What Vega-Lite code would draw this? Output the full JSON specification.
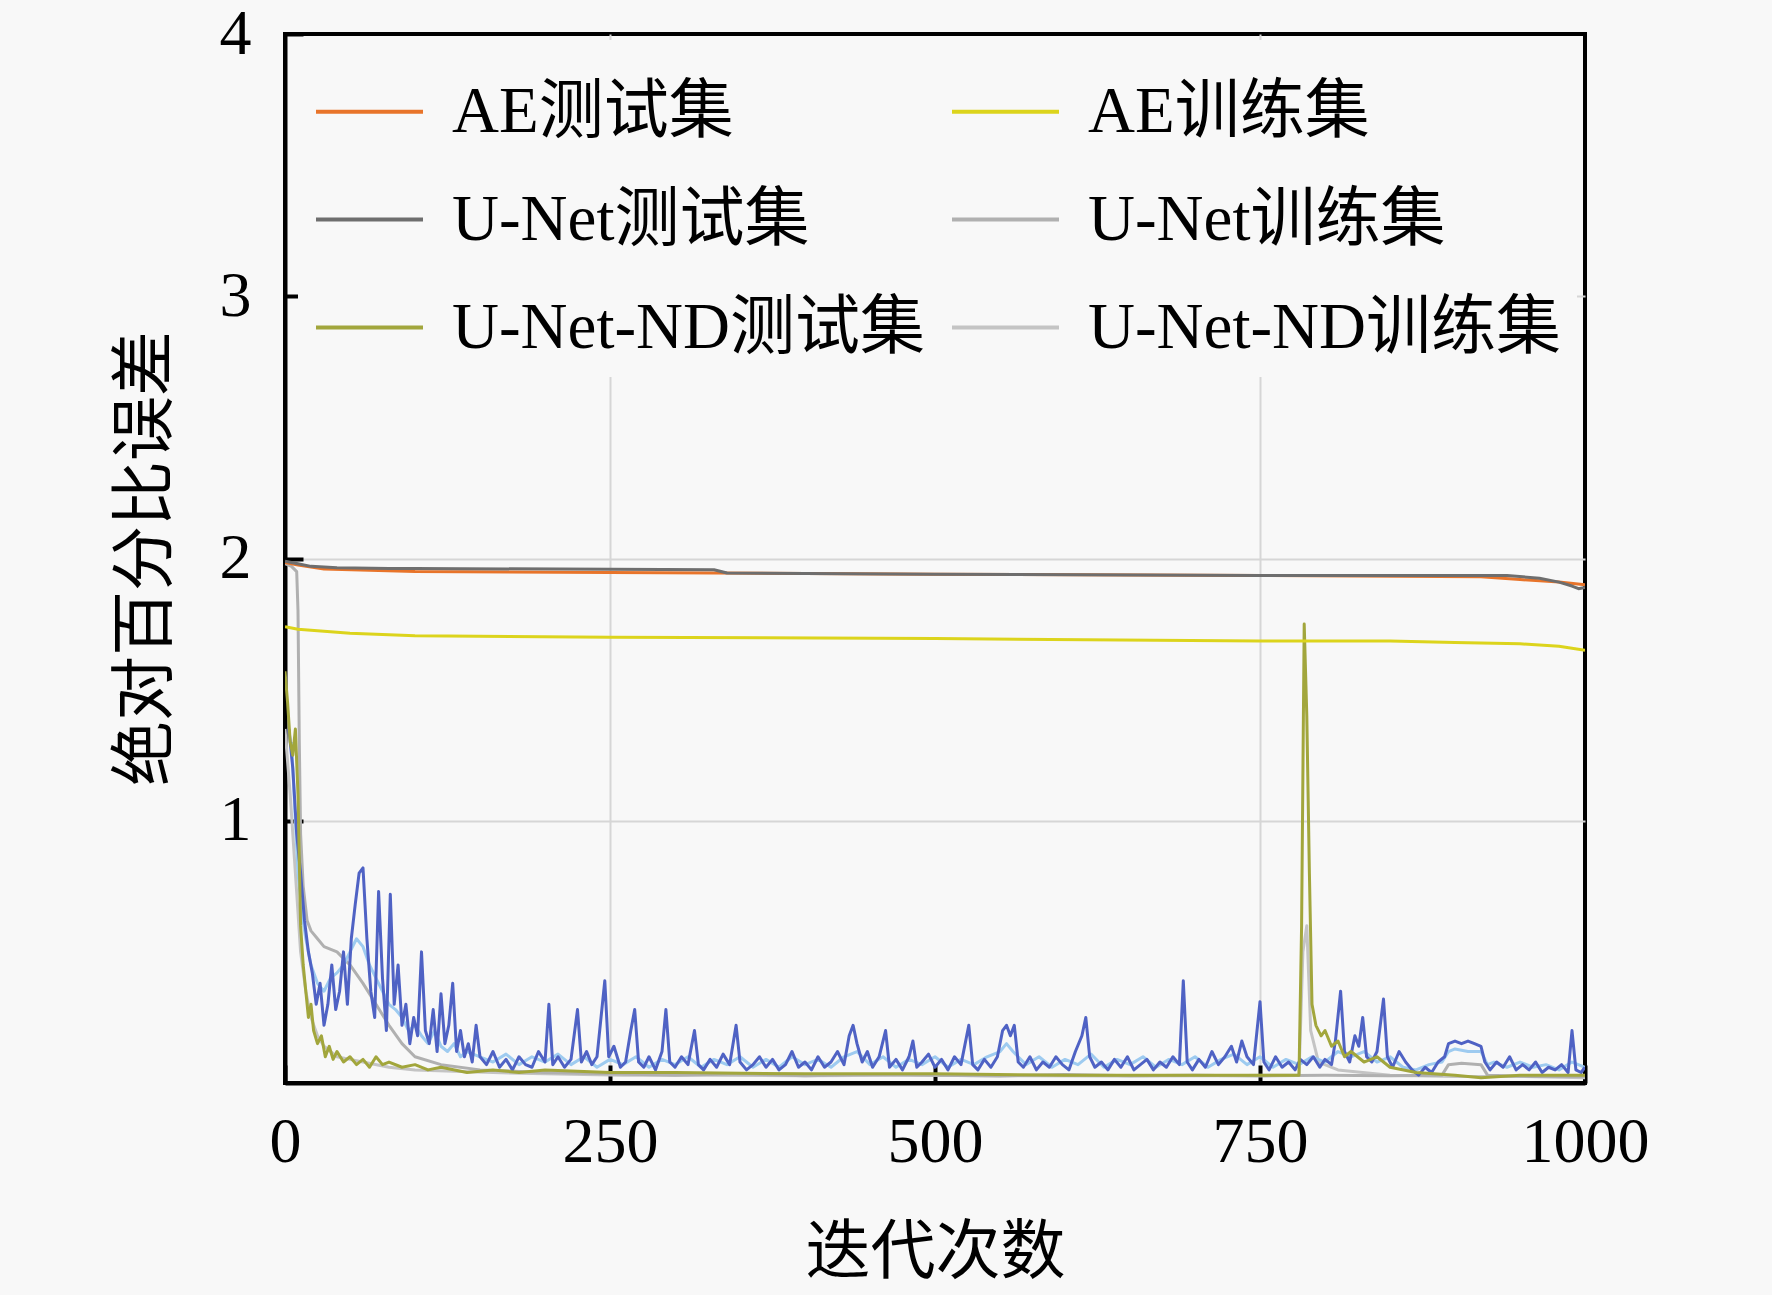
{
  "$schema": "https://vega.github.io/schema/vega-lite/v6.json",
  "width": 1300,
  "height": 1049,
  "autosize": {"type": "none"},
  "padding": {"left": 285, "top": 34, "right": 187, "bottom": 212},
  "background": "#f8f8f8",
  "data": {"values": [
    {"s": "U-Net-ND训练集",
     "x": [0,4,8,12,16,20,25,30,40,50,60,80,100,130,160,200,260,320,400,480,560,640,720,780,783,786,789,795,810,850,900,950,1000],
     "y": [1.35,1.1,0.8,0.5,0.35,0.25,0.18,0.14,0.1,0.09,0.08,0.06,0.05,0.045,0.04,0.035,0.03,0.03,0.028,0.03,0.028,0.027,0.028,0.03,0.5,0.6,0.2,0.08,0.05,0.03,0.025,0.025,0.02]},
    {"s": "U-Net训练集",
     "x": [0,5,9,10,11,12,14,17,20,25,30,40,50,60,70,80,90,100,120,150,200,250,300,350,400,450,500,550,600,650,700,750,800,850,890,895,905,920,925,960,1000],
     "y": [1.98,1.97,1.95,1.8,1.3,0.95,0.75,0.62,0.58,0.55,0.52,0.5,0.45,0.38,0.3,0.22,0.15,0.1,0.07,0.05,0.04,0.035,0.03,0.035,0.028,0.032,0.03,0.027,0.032,0.028,0.03,0.027,0.03,0.028,0.03,0.07,0.075,0.07,0.03,0.025,0.025]},
    {"s": "U-Net-ND测试集-2",
     "x": [5,8,10,13,16,20,25,30,35,40,45,50,55,60,65,70,75,80,85,90,95,100,105,110,115,120,125,130,135,140,150,160,170,180,190,200,210,220,230,240,250,260,270,280,290,300,310,320,330,340,350,360,370,380,390,400,410,420,430,440,450,460,470,480,490,500,510,520,530,540,550,555,560,570,580,590,600,610,620,630,640,650,660,670,680,690,700,710,720,730,740,750,760,770,780,790,800,810,820,830,840,850,860,870,880,890,895,900,910,920,925,930,940,950,960,970,980,990,1000],
     "y": [1.3,1.0,0.8,0.65,0.55,0.45,0.38,0.35,0.4,0.42,0.45,0.5,0.55,0.52,0.45,0.4,0.35,0.3,0.28,0.25,0.2,0.22,0.18,0.15,0.2,0.14,0.12,0.15,0.1,0.12,0.1,0.08,0.11,0.07,0.1,0.08,0.11,0.07,0.1,0.06,0.09,0.07,0.1,0.06,0.09,0.07,0.1,0.06,0.09,0.07,0.1,0.06,0.09,0.06,0.1,0.07,0.09,0.06,0.1,0.12,0.07,0.1,0.06,0.09,0.07,0.1,0.06,0.09,0.07,0.1,0.12,0.15,0.12,0.07,0.1,0.06,0.09,0.07,0.11,0.06,0.09,0.07,0.1,0.06,0.09,0.07,0.1,0.06,0.09,0.11,0.07,0.1,0.06,0.09,0.07,0.1,0.08,0.12,0.1,0.12,0.08,0.1,0.06,0.05,0.07,0.08,0.12,0.13,0.12,0.12,0.07,0.08,0.06,0.08,0.06,0.07,0.05,0.08,0.06]},
    {"s": "U-Net测试集-2",
     "x": [3,6,9,12,15,18,21,24,27,30,33,36,39,42,45,48,51,54,57,60,63,66,69,72,75,78,81,84,87,90,93,96,99,102,105,108,111,114,117,120,123,126,129,132,135,138,141,144,147,150,155,160,165,170,175,180,185,190,195,200,203,206,210,215,220,225,228,232,236,240,246,249,253,258,262,266,269,272,276,280,285,290,293,296,300,305,310,315,318,322,327,332,337,342,347,350,355,360,365,370,375,380,385,390,395,400,405,410,415,420,425,430,434,437,440,444,448,452,457,462,465,470,475,480,483,486,490,495,500,505,510,515,520,526,529,533,538,543,548,552,555,558,561,564,568,573,578,583,588,593,598,603,608,613,616,619,623,628,633,638,643,648,653,658,663,668,673,678,683,688,691,694,698,703,708,713,718,723,728,732,736,740,745,750,753,757,762,767,772,777,781,786,791,796,800,805,808,812,815,819,823,826,829,832,836,840,845,848,852,857,862,867,872,877,882,887,892,895,900,905,910,915,920,923,927,932,937,942,947,952,957,962,967,972,977,982,987,990,993,997,1000],
     "y": [1.35,1.2,0.95,0.8,0.62,0.5,0.42,0.3,0.38,0.22,0.3,0.45,0.28,0.35,0.5,0.3,0.55,0.68,0.8,0.82,0.55,0.35,0.25,0.73,0.4,0.2,0.72,0.3,0.45,0.22,0.3,0.15,0.25,0.18,0.5,0.2,0.15,0.28,0.12,0.34,0.15,0.22,0.38,0.12,0.2,0.1,0.15,0.08,0.22,0.1,0.07,0.12,0.06,0.09,0.05,0.1,0.07,0.06,0.12,0.08,0.3,0.07,0.1,0.06,0.09,0.28,0.08,0.12,0.07,0.1,0.39,0.1,0.14,0.06,0.08,0.2,0.28,0.08,0.06,0.1,0.05,0.12,0.28,0.08,0.06,0.1,0.07,0.2,0.07,0.05,0.09,0.06,0.11,0.07,0.22,0.08,0.05,0.07,0.1,0.06,0.09,0.05,0.07,0.12,0.06,0.08,0.05,0.1,0.06,0.08,0.12,0.07,0.18,0.22,0.15,0.08,0.12,0.06,0.1,0.2,0.06,0.09,0.05,0.1,0.16,0.06,0.08,0.11,0.06,0.09,0.05,0.1,0.07,0.22,0.07,0.05,0.09,0.06,0.1,0.2,0.22,0.18,0.22,0.08,0.06,0.1,0.05,0.08,0.06,0.1,0.07,0.05,0.12,0.18,0.25,0.1,0.06,0.08,0.05,0.09,0.06,0.1,0.05,0.07,0.09,0.05,0.08,0.06,0.1,0.07,0.39,0.08,0.05,0.09,0.06,0.12,0.07,0.1,0.14,0.08,0.16,0.1,0.07,0.31,0.08,0.05,0.1,0.06,0.08,0.05,0.09,0.07,0.1,0.06,0.09,0.07,0.16,0.35,0.12,0.08,0.18,0.14,0.25,0.1,0.08,0.12,0.32,0.1,0.06,0.12,0.08,0.05,0.03,0.06,0.04,0.08,0.1,0.15,0.16,0.15,0.16,0.15,0.14,0.08,0.05,0.08,0.06,0.1,0.05,0.07,0.05,0.08,0.04,0.06,0.05,0.07,0.04,0.2,0.05,0.04,0.06]},
    {"s": "U-Net-ND测试集",
     "x": [0,2,4,6,8,10,12,14,16,18,20,22,25,28,31,34,37,40,45,50,55,60,65,70,75,80,90,100,110,120,140,160,180,200,250,300,400,500,600,700,780,782,784,786,788,790,793,797,800,805,810,815,820,830,840,850,870,900,920,950,1000],
     "y": [1.57,1.45,1.3,1.25,1.35,1.1,0.6,0.45,0.35,0.25,0.3,0.2,0.15,0.18,0.1,0.14,0.09,0.12,0.08,0.1,0.07,0.09,0.06,0.1,0.07,0.08,0.06,0.07,0.05,0.06,0.04,0.05,0.04,0.05,0.04,0.04,0.035,0.035,0.03,0.03,0.03,0.6,1.75,1.4,0.8,0.3,0.22,0.18,0.2,0.14,0.16,0.1,0.12,0.08,0.1,0.06,0.04,0.03,0.02,0.03,0.03]},
    {"s": "AE训练集",
     "x": [0,10,50,100,250,500,750,850,900,950,980,1000],
     "y": [1.74,1.73,1.715,1.705,1.7,1.695,1.685,1.685,1.68,1.675,1.665,1.65]},
    {"s": "AE测试集",
     "x": [0,10,30,100,250,330,500,750,920,950,980,1000],
     "y": [1.985,1.975,1.96,1.95,1.947,1.945,1.94,1.935,1.93,1.92,1.91,1.9]},
    {"s": "U-Net测试集",
     "x": [0,5,10,20,40,80,100,330,340,500,750,920,940,965,980,990,995,1000],
     "y": [1.99,1.985,1.98,1.97,1.965,1.962,1.962,1.957,1.945,1.94,1.935,1.935,1.935,1.925,1.91,1.895,1.885,1.89]}
  ]},
  "transform": [{"flatten": ["x", "y"]}],
  "mark": {"type": "line", "strokeWidth": 3, "strokeJoin": "round", "clip": true},
  "encoding": {
    "x": {
      "field": "x", "type": "quantitative",
      "scale": {"domain": [0, 1000], "nice": false},
      "axis": {
        "values": [0, 250, 500, 750, 1000],
        "format": "d",
        "title": "迭代次数",
        "domainColor": "black", "domainWidth": 4,
        "tickColor": "black", "tickWidth": 4, "tickSize": -18,
        "labelFont": "Liberation Serif", "labelFontSize": 64, "labelColor": "black",
        "labelPadding": 45, "labelFlush": false, "labelOverlap": false,
        "grid": true, "gridWidth": 2,
        "gridColor": {"condition": {"test": "datum.value == 250 || datum.value == 750", "value": "#d6d6d6"}, "value": "transparent"},
        "titleFont": "Noto Sans CJK SC", "titleFontSize": 65, "titleFontWeight": "normal", "titleColor": "black",
        "titleX": 650, "titleY": 169, "titleBaseline": "middle", "titleAlign": "center"
      }
    },
    "y": {
      "field": "y", "type": "quantitative",
      "scale": {"domain": [0, 4], "nice": false},
      "axis": {
        "values": [1, 2, 3, 4],
        "title": "绝对百分比误差",
        "domainColor": "black", "domainWidth": 4,
        "tickColor": "black", "tickWidth": 4, "tickSize": -18,
        "labelFont": "Liberation Serif", "labelFontSize": 64, "labelColor": "black",
        "labelPadding": 52, "labelFlush": false, "labelOverlap": false,
        "grid": true, "gridWidth": 2,
        "gridColor": {"condition": {"test": "datum.value < 4", "value": "#d6d6d6"}, "value": "transparent"},
        "titleFont": "Noto Sans CJK SC", "titleFontSize": 65, "titleFontWeight": "normal", "titleColor": "black",
        "titleX": -140, "titleY": 524, "titleAngle": 270, "titleBaseline": "middle", "titleAlign": "center"
      }
    },
    "color": {
      "field": "s", "type": "nominal",
      "scale": {
        "domain": ["AE测试集", "AE训练集", "U-Net测试集", "U-Net训练集", "U-Net-ND测试集", "U-Net-ND训练集", "U-Net测试集-2", "U-Net-ND测试集-2"],
        "range": ["#e8742a", "#dcd41c", "#6e6e6e", "#b0b0b0", "#a2a63c", "#c4c4c4", "#4f62c4", "#9ecbf0"]
      },
      "legend": {
        "values": ["AE测试集", "AE训练集", "U-Net测试集", "U-Net训练集", "U-Net-ND测试集", "U-Net-ND训练集"],
        "title": null,
        "orient": "none", "legendX": 13, "legendY": 6,
        "direction": "horizontal",
        "columns": 2, "columnPadding": 19, "rowPadding": 19,
        "symbolType": "stroke", "symbolSize": 11449, "symbolStrokeWidth": 4,
        "labelFont": "Liberation Serif, Noto Sans CJK SC", "labelFontSize": 65, "labelColor": "black",
        "labelLimit": 800, "labelOffset": 27,
        "padding": 16, "fillColor": "#f8f8f8"
      }
    }
  },
  "config": {
    "view": {"stroke": "black", "strokeWidth": 4}
  }
}
